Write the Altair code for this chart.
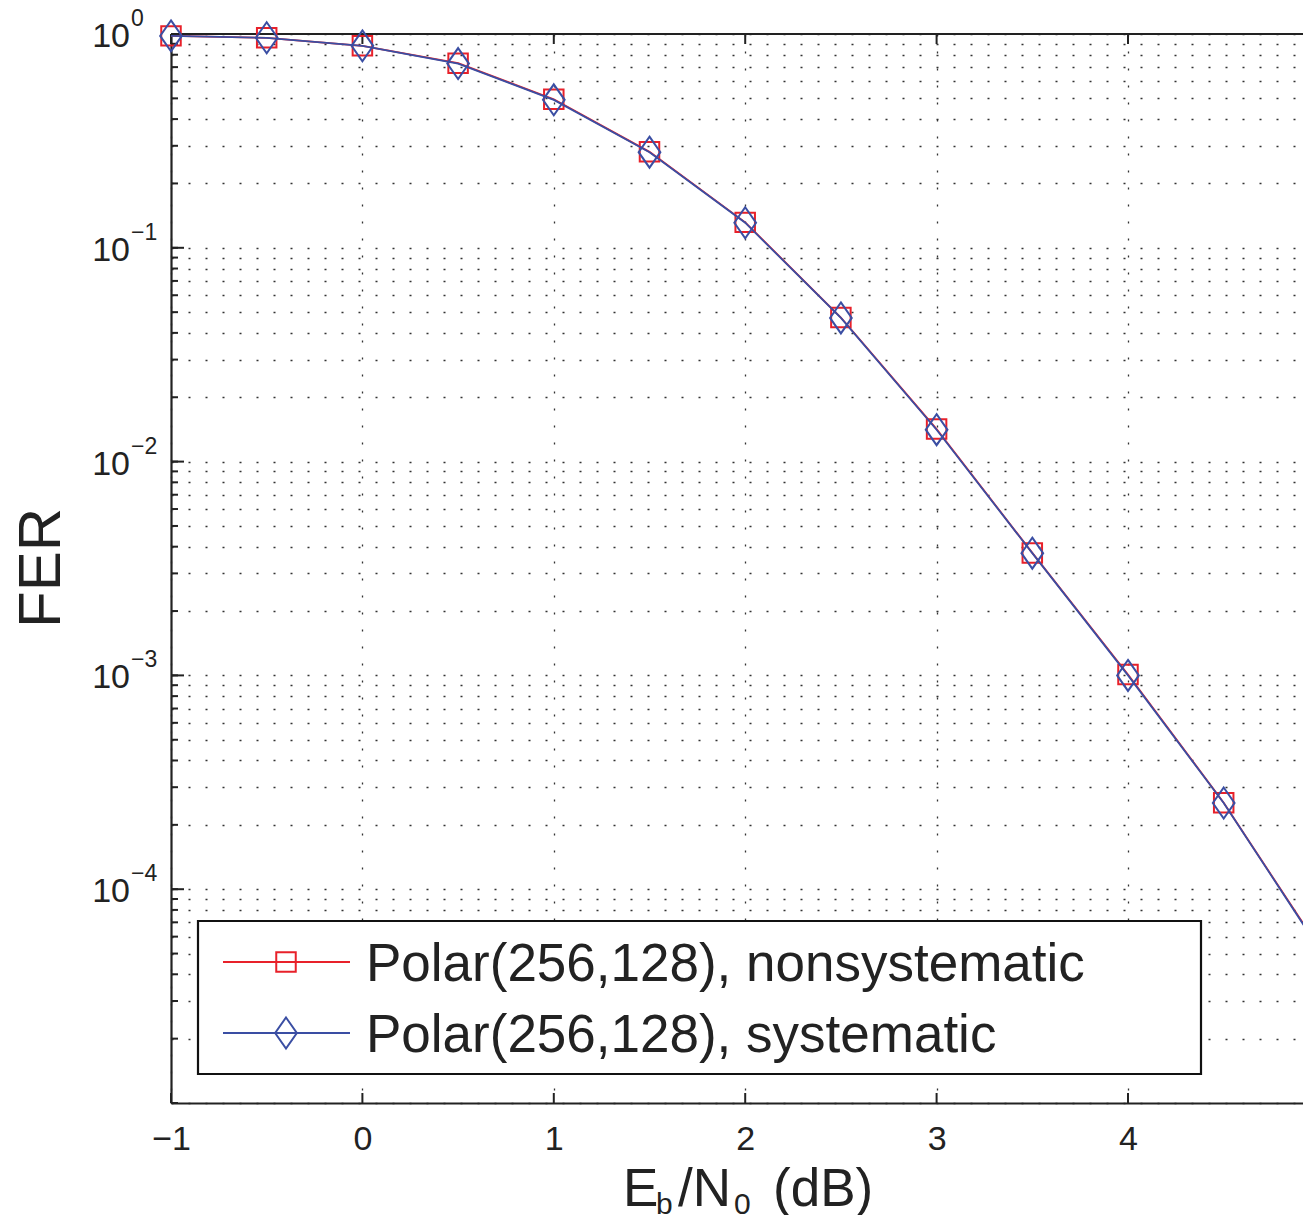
import altair as alt
import pandas as pd

FONT = "Liberation Sans"

# ---- data ----
ebn0 = [-1, -0.5, 0, 0.5, 1, 1.5, 2, 2.5, 3, 3.5, 4, 4.5, 5]
fer_nonsys = [0.98, 0.96, 0.88, 0.73, 0.495, 0.281, 0.1315, 0.0472, 0.0142,
              0.00374, 0.00101, 0.000254, 5.3e-5]
fer_sys = [0.98, 0.96, 0.88, 0.727, 0.492, 0.28, 0.131, 0.047, 0.0141,
           0.00373, 0.00100, 0.000253, 5.25e-5]
series_names = ["Polar(256,128), nonsystematic", "Polar(256,128), systematic"]
series_colors = ["#e8212a", "#3a4ea3"]

x_ticks = [-1, 0, 1, 2, 3, 4]
y_major = [1, 0.1, 0.01, 0.001, 0.0001]
y_exponents = ["0", "\u22121", "\u22122", "\u22123", "\u22124"]
y_minor = [m * 10.0 ** k for k in range(-5, 0) for m in range(1, 10)] + [1.0]

W, H = 1132, 1069
X_DOMAIN = [-1, -1 + W / 191.4]

xs = alt.Scale(domain=X_DOMAIN, nice=False, zero=False)
ys = alt.Scale(type="log", domain=[1e-5, 1], nice=False)

SQUARE = "M-1,-1L1,-1L1,1L-1,1Z"
DIAMOND = "M0,-1L0.7,0L0,1L-0.7,0Z"
shapes = [SQUARE, DIAMOND]
shape_sizes = [380, 961]

df = pd.concat([
    pd.DataFrame({"ebn0": ebn0, "fer": fer_nonsys, "series": series_names[0]}),
    pd.DataFrame({"ebn0": ebn0, "fer": fer_sys, "series": series_names[1]}),
])

one = pd.DataFrame({"a": [0]})

# grid + axes
grid_layer = alt.Chart(pd.DataFrame({"ebn0": x_ticks, "fer": [1.0] * len(x_ticks)})).mark_point(opacity=0).encode(
    x=alt.X("ebn0:Q", scale=xs, axis=alt.Axis(
        values=x_ticks, format="d", grid=True, gridDash=[2, 15], gridColor="#333", gridWidth=1.3,
        ticks=False, labelFontSize=34, labelFont=FONT, labelColor="#222",
        labelPadding=19, domainColor="#222", domainWidth=2.2, title=None,
        labelFlush=False, labelOverlap=False)),
    y=alt.Y("fer:Q", scale=ys, axis=alt.Axis(
        values=y_minor, grid=True, gridDash=[2, 15], gridColor="#333", gridWidth=1.3,
        labels=False, ticks=False, domainColor="#222", domainWidth=2.2, title=None)),
)

layers = [grid_layer]

# inward ticks
df_minor = pd.DataFrame({"v": y_minor})
df_major = pd.DataFrame({"v": y_major})
df_xt = pd.DataFrame({"v": x_ticks})
layers.append(alt.Chart(df_minor).mark_rule(color="#222", strokeWidth=2).encode(
    y=alt.Y("v:Q", scale=ys), x=alt.value(0), x2=alt.value(7)))
layers.append(alt.Chart(df_major).mark_rule(color="#222", strokeWidth=2).encode(
    y=alt.Y("v:Q", scale=ys), x=alt.value(0), x2=alt.value(13)))
layers.append(alt.Chart(df_xt).mark_rule(color="#222", strokeWidth=2).encode(
    x=alt.X("v:Q", scale=xs), y=alt.value(H - 10), y2=alt.value(H)))
layers.append(alt.Chart(df_xt).mark_rule(color="#222", strokeWidth=2).encode(
    x=alt.X("v:Q", scale=xs), y=alt.value(0), y2=alt.value(10)))
# top border
layers.append(alt.Chart(one).mark_rule(color="#222", strokeWidth=2.2).encode(
    x=alt.value(0), x2=alt.value(W), y=alt.value(0)))

# data series
for i, name in enumerate(series_names):
    sub = df[df["series"] == name]
    layers.append(alt.Chart(sub).mark_line(color=series_colors[i], strokeWidth=1.8).encode(
        x=alt.X("ebn0:Q", scale=xs), y=alt.Y("fer:Q", scale=ys)))
    layers.append(alt.Chart(sub).mark_point(
        shape=shapes[i], size=shape_sizes[i], filled=False, color=series_colors[i],
        strokeWidth=2, opacity=1).encode(
        x=alt.X("ebn0:Q", scale=xs), y=alt.Y("fer:Q", scale=ys)))

# y tick labels (10 with superscript exponent)
df_ylab = pd.DataFrame({"v": y_major, "base": ["10"] * len(y_major), "exp": y_exponents})
layers.append(alt.Chart(df_ylab).mark_text(
    font=FONT, fontSize=34, color="#222", align="right", baseline="alphabetic", dy=13).encode(
    y=alt.Y("v:Q", scale=ys), x=alt.value(-41), text="base:N"))
layers.append(alt.Chart(df_ylab).mark_text(
    font=FONT, fontSize=23, color="#222", align="left", baseline="alphabetic", dy=-8).encode(
    y=alt.Y("v:Q", scale=ys), x=alt.value(-40), text="exp:N"))

# y axis title
layers.append(alt.Chart(one).mark_text(
    font=FONT, fontSize=60, color="#222", align="center", baseline="alphabetic", angle=270,
    text="FER").encode(x=alt.value(-111), y=alt.value(534)))

# x axis title: E_b/N_0 (dB)
xt_parts = [("E", 452, 1172, 53), ("b", 485, 1180, 30), ("/N", 507, 1172, 53),
            ("0", 563, 1180, 30), ("(dB)", 602, 1172, 53)]
for txt, px, py, fs in xt_parts:
    layers.append(alt.Chart(one).mark_text(
        font=FONT, fontSize=fs, color="#222", align="left", baseline="alphabetic",
        text=txt).encode(x=alt.value(px), y=alt.value(py)))

# legend
layers.append(alt.Chart(one).mark_rect(fill="white", stroke="#111", strokeWidth=2.2).encode(
    x=alt.value(27), x2=alt.value(1030), y=alt.value(887), y2=alt.value(1040)))
for i, name in enumerate(series_names):
    ry = 928 + 71 * i
    leg = pd.DataFrame({"label": [name]})
    layers.append(alt.Chart(leg).mark_rule(color=series_colors[i], strokeWidth=1.8).encode(
        x=alt.value(52), x2=alt.value(179), y=alt.value(ry)))
    layers.append(alt.Chart(leg).mark_point(
        shape=shapes[i], size=shape_sizes[i], filled=False, color=series_colors[i],
        strokeWidth=2, opacity=1).encode(x=alt.value(115), y=alt.value(ry)))
    layers.append(alt.Chart(leg).mark_text(
        font=FONT, fontSize=53, color="#222", align="left", baseline="alphabetic").encode(
        x=alt.value(195), y=alt.value(ry + 19), text="label:N"))

chart = alt.layer(*layers).properties(
    width=W, height=H,
    padding={"left": 163, "top": 26, "right": 0, "bottom": 112},
    autosize=alt.AutoSizeParams(type="none"),
    background="white",
).configure_view(stroke=None)

chart.save("out.html", embed_options={"renderer": "svg", "actions": False})
